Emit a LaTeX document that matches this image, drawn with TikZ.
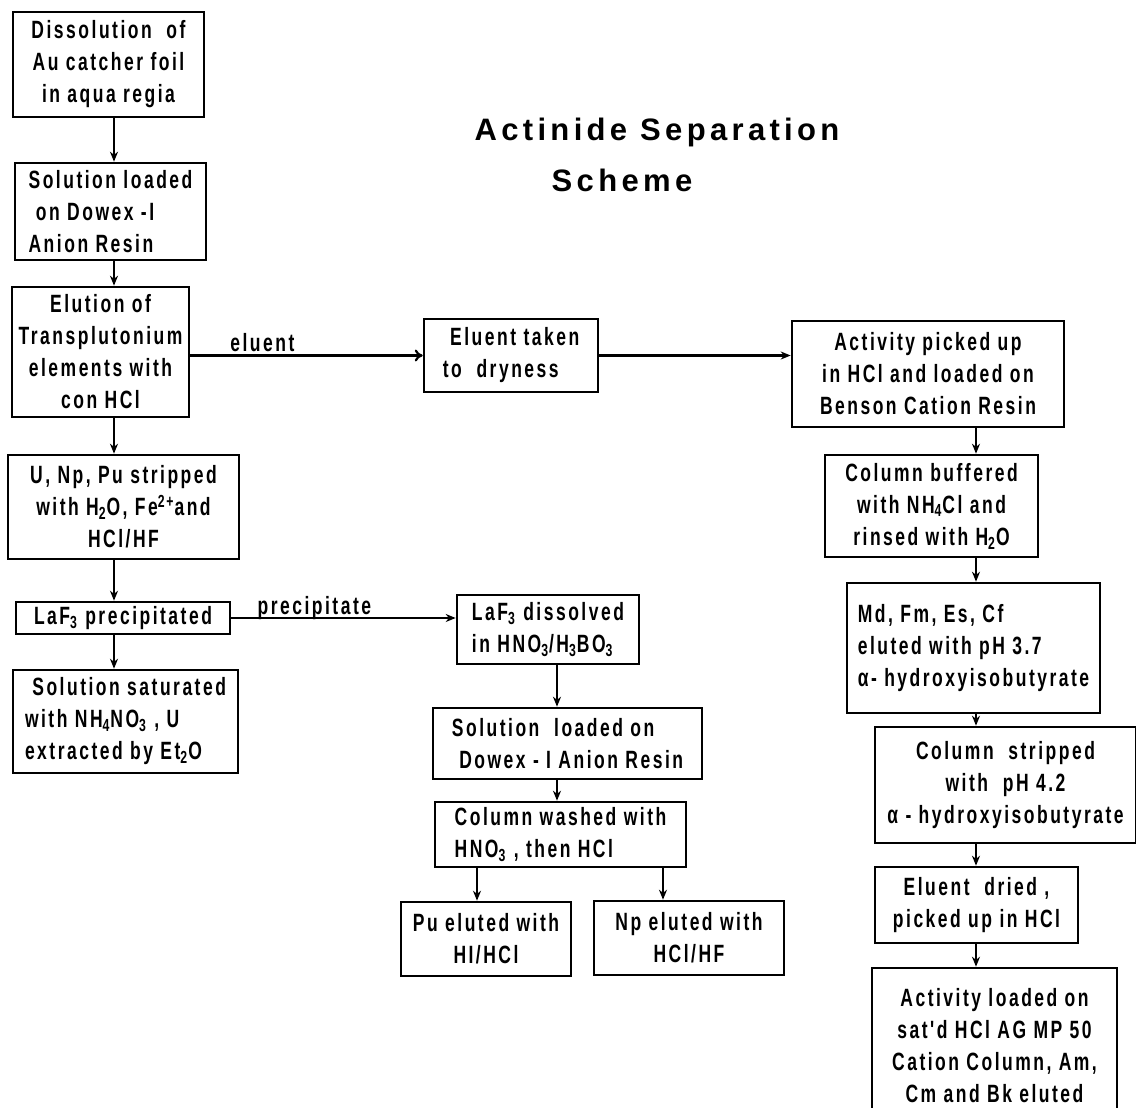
\documentclass[tikz,border=0pt]{standalone}
\usepackage{fontspec}
\usetikzlibrary{arrows.meta}
\setmainfont{Liberation Sans}
\newfontfamily\boxfont{Liberation Sans}[FakeStretch=0.7, LetterSpace=10]
\newfontfamily\titlefont{Liberation Sans}[LetterSpace=14]

\begin{document}
\begin{tikzpicture}[x=0.5pt, y=-0.5pt, >={Stealth[length=5pt, width=4pt]},
        box/.style={draw, rectangle, line width=1.3pt, inner xsep=1pt, inner ysep=2pt,
            font=\boxfont\bfseries\fontsize{12.5}{16}\selectfont},
        flow/.style={->, line width=1.1pt},
        tag/.style={font=\boxfont\bfseries\fontsize{12.5}{16}\selectfont, inner sep=1.5pt}]

        % --- CADRE ---
        \useasboundingbox (0,0) rectangle (1136,1108);
        \clip (0,0) rectangle (1136,1108);

        % Colonnes des fleches verticales
        \coordinate (colL) at (114,0);
        \coordinate (colM) at (557,0);
        \coordinate (colR) at (976,0);
        \coordinate (colPu) at (477,0);
        \coordinate (colNp) at (663,0);

        % Titre
        \node[font=\titlefont\bfseries\fontsize{15.5}{19}\selectfont] (title) at (657,132) {Actinide Separation};
        \node[font=\titlefont\bfseries\fontsize{15.5}{19}\selectfont] (subtitle) at (622,180) {Scheme};

        % --- COLONNE GAUCHE ---
        \node[box, align=center, minimum width=95.5pt, minimum height=52.5pt] (dissolve) at (108.5,64.5)
            {Dissolution\ \ of\\Au catcher foil\\in aqua regia};
        \node[box, align=left, minimum width=95.5pt, minimum height=48.5pt] (loadA) at (110.5,211.5)
            {Solution loaded\\\ on Dowex -I\\Anion Resin};
        \node[box, align=center, minimum width=88.5pt, minimum height=65pt] (elute) at (100.5,352)
            {Elution of\\Transplutonium\\elements with\\con HCl};
        \node[box, align=center, minimum width=115.5pt, minimum height=52pt] (strip) at (123.5,507)
            {U, Np, Pu stripped\\with H\textsubscript{2}O, Fe\textsuperscript{2+}and\\HCl/HF};
        \node[box, align=center, minimum width=107pt, minimum height=16pt] (laf) at (123,618)
            {LaF\textsubscript{3} precipitated};
        \node[box, align=left, minimum width=112.5pt, minimum height=51.5pt] (satur) at (125.5,721.5)
            {\ Solution saturated\\with NH\textsubscript{4}NO\textsubscript{3} , U\\extracted by Et\textsubscript{2}O};

        % --- COLONNE DU MILIEU ---
        \node[box, align=left, minimum width=87pt, minimum height=36.5pt] (dry) at (511,355.5)
            {\ Eluent taken\\to\ \ dryness};
        \node[box, align=left, minimum width=91pt, minimum height=34.5pt] (dissolved) at (548,629.5)
            {LaF\textsubscript{3} dissolved\\in HNO\textsubscript{3}/H\textsubscript{3}BO\textsubscript{3}};
        \node[box, align=left, minimum width=134.5pt, minimum height=35.5pt] (loadB) at (567.5,743.5)
            {Solution\ \ loaded on\\\ Dowex - I Anion Resin};
        \node[box, align=left, minimum width=125.5pt, minimum height=32.5pt] (wash) at (560.5,834.5)
            {Column washed with\\HNO\textsubscript{3} , then HCl};
        \node[box, align=center, minimum width=85pt, minimum height=37pt] (pu) at (486,939)
            {Pu eluted with\\HI/HCl};
        \node[box, align=center, minimum width=95pt, minimum height=37pt] (np) at (689,938)
            {Np eluted with\\HCl/HF};

        % --- COLONNE DROITE ---
        \node[box, align=center, minimum width=136pt, minimum height=53pt] (pick) at (928,374)
            {Activity picked up\\in HCl and loaded on\\Benson Cation Resin};
        \node[box, align=center, minimum width=106.5pt, minimum height=51pt] (buffer) at (931.5,506)
            {Column buffered\\with NH\textsubscript{4}Cl and\\rinsed with H\textsubscript{2}O};
        \node[box, align=left, minimum width=126.5pt, minimum height=65pt] (mdfm) at (973.5,648)
            {Md, Fm, Es, Cf\\eluted with pH 3.7\\α- hydroxyisobutyrate};
        \node[box, align=center, minimum width=130.5pt, minimum height=58pt] (strip42) at (1005.5,785)
            {Column\ \ stripped\\with\ \ pH 4.2\\α - hydroxyisobutyrate};
        \node[box, align=center, minimum width=101.5pt, minimum height=38pt] (dried) at (976.5,905)
            {Eluent\ \ dried ,\\picked up in HCl};
        \node[box, align=center, minimum width=122.5pt, minimum height=77.5pt] (amcm) at (994.5,1045.5)
            {Activity loaded on\\sat'd HCl AG MP 50\\Cation Column, Am,\\Cm and Bk eluted};

        % --- FLECHES ---
        \draw[flow] (dissolve.south -| colL) -- (loadA.north -| colL);
        \draw[flow] (loadA.south -| colL) -- (elute.north -| colL);
        \draw[flow] (elute.south -| colL) -- (strip.north -| colL);
        \draw[flow] (strip.south -| colL) -- (laf.north -| colL);
        \draw[flow] (laf.south -| colL) -- (satur.north -| colL);

        \draw[line width=1.1pt, -{To[length=4pt, width=6pt]}] (elute.east |- dry.west) -- (dry.west)
            node[tag, pos=0.31, above] {eluent};
        \draw[flow] (dry.east) -- (dry.east -| pick.west);
        \draw[flow] (laf.east) -- (laf.east -| dissolved.west)
            node[tag, pos=0.37, above, yshift=-3pt] {precipitate};

        \draw[flow] (dissolved.south -| colM) -- (loadB.north -| colM);
        \draw[flow] (loadB.south -| colM) -- (wash.north -| colM);
        \draw[flow] (wash.south -| colPu) -- (pu.north -| colPu);
        \draw[flow] (wash.south -| colNp) -- (np.north -| colNp);

        \draw[flow] (pick.south -| colR) -- (buffer.north -| colR);
        \draw[flow] (buffer.south -| colR) -- (mdfm.north -| colR);
        \draw[flow] (mdfm.south -| colR) -- (strip42.north -| colR);
        \draw[flow] (strip42.south -| colR) -- (dried.north -| colR);
        \draw[flow] (dried.south -| colR) -- (amcm.north -| colR);

    \end{tikzpicture}
\end{document}
